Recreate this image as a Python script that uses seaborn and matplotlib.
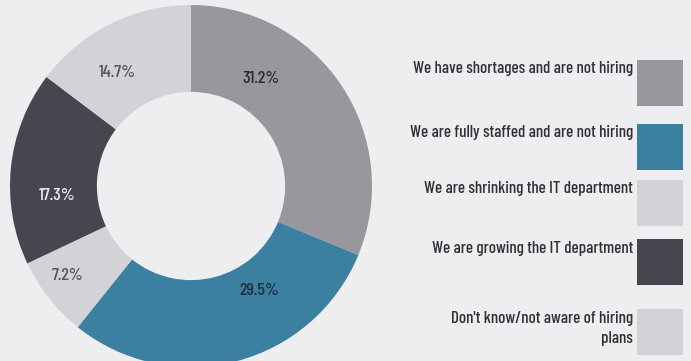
import matplotlib
matplotlib.use("Agg")
import matplotlib.pyplot as plt
import matplotlib.patches as mpatches
from matplotlib import font_manager as fm
import numpy as np
import seaborn as sns

# Survey answers, clockwise from 12 o'clock
categories = [
    "We have shortages and are not hiring",
    "We are fully staffed and are not hiring",
    "Don't know/not aware of hiring\nplans",
    "We are growing the IT department",
    "We are shrinking the IT department",
]
shares = [31.2, 29.5, 7.2, 17.3, 14.7]
pct_labels = ["31.2%", "29.5%", "7.2%", "17.3%", "14.7%"]

# Legend order as printed beside the ring
legend_order = [
    "We have shortages and are not hiring",
    "We are fully staffed and are not hiring",
    "We are shrinking the IT department",
    "We are growing the IT department",
    "Don't know/not aware of hiring\nplans",
]

BG = "#eeeef0"
palette = {
    "We have shortages and are not hiring": "#98979d",
    "We are fully staffed and are not hiring": "#3c80a1",
    "Don't know/not aware of hiring\nplans": "#d3d2d7",
    "We are growing the IT department": "#46464e",
    "We are shrinking the IT department": "#d3d2d7",
}
text_colors = ["#2a2a30", "#1f2f3a", "#55555b", "#ececf0", "#55555b"]

sns.set_theme(style="white")

# Prefer a narrow sans face, fall back to DejaVu Sans
installed = {f.name for f in fm.fontManager.ttflist}
preferred = ["Barlow Condensed", "Roboto Condensed", "PT Sans Narrow",
             "Fira Sans Condensed", "Archivo Narrow", "Barlow Semi Condensed",
             "Open Sans Condensed", "Liberation Sans Narrow"]
narrow = next((n for n in preferred if n in installed), None)
FONT = ([narrow] if narrow else []) + ["DejaVu Sans"]
plt.rcParams["font.family"] = FONT

W, H = 691, 361
fig = plt.figure(figsize=(W / 100, H / 100), dpi=100, facecolor=BG)

# Ring: centre (191, 186) px, outer radius 181 px
cx, cy, R = 191, 186, 181
ax = fig.add_axes([(cx - R) / W, (H - cy - R) / H, 2 * R / W, 2 * R / H])
ax.set_facecolor(BG)

colors = [palette[c] for c in categories]
wedges, _ = ax.pie(
    shares, colors=colors, startangle=90, counterclock=False, radius=1.0,
    wedgeprops=dict(width=0.48, linewidth=0), normalize=True,
)
ax.set_xlim(-1, 1)
ax.set_ylim(-1, 1)
ax.axis("off")

# Percentage labels: angle measured clockwise from top, radius as ring fraction
label_angles = [33, 147, 234, 266, 327]
label_radii = [0.71, 0.69, 0.84, 0.74, 0.75]
for txt, ang, r, tc in zip(pct_labels, label_angles, label_radii, text_colors):
    a = np.deg2rad(ang)
    ax.text(r * np.sin(a), r * np.cos(a), txt, ha="center", va="center",
            fontsize=13, color=tc, weight="medium")

# Legend drawn in pixel coordinates
lg = fig.add_axes([0, 0, 1, 1], facecolor="none")
lg.set_xlim(0, W)
lg.set_ylim(H, 0)
lg.axis("off")

# Size the legend text so the first entry spans about 221 px
renderer = fig.canvas.get_renderer()
probe = lg.text(0, 0, legend_order[0], fontsize=10, weight="medium")
probe_w = probe.get_window_extent(renderer).width
probe.remove()
legend_size = min(13, 10 * 221 / probe_w)

box_tops = [60, 124, 180, 239, 309]
box_h = 46
for lab, top in zip(legend_order, box_tops):
    lg.add_patch(mpatches.Rectangle((637, top), 46, box_h, color=palette[lab], lw=0))
    for i, line in enumerate(lab.split("\n")):
        lg.text(633, top + 9 + i * 20, line, ha="right", va="center",
                fontsize=legend_size, color="#303036", weight="medium")

fig.savefig("out.png", dpi=100, facecolor=BG)
